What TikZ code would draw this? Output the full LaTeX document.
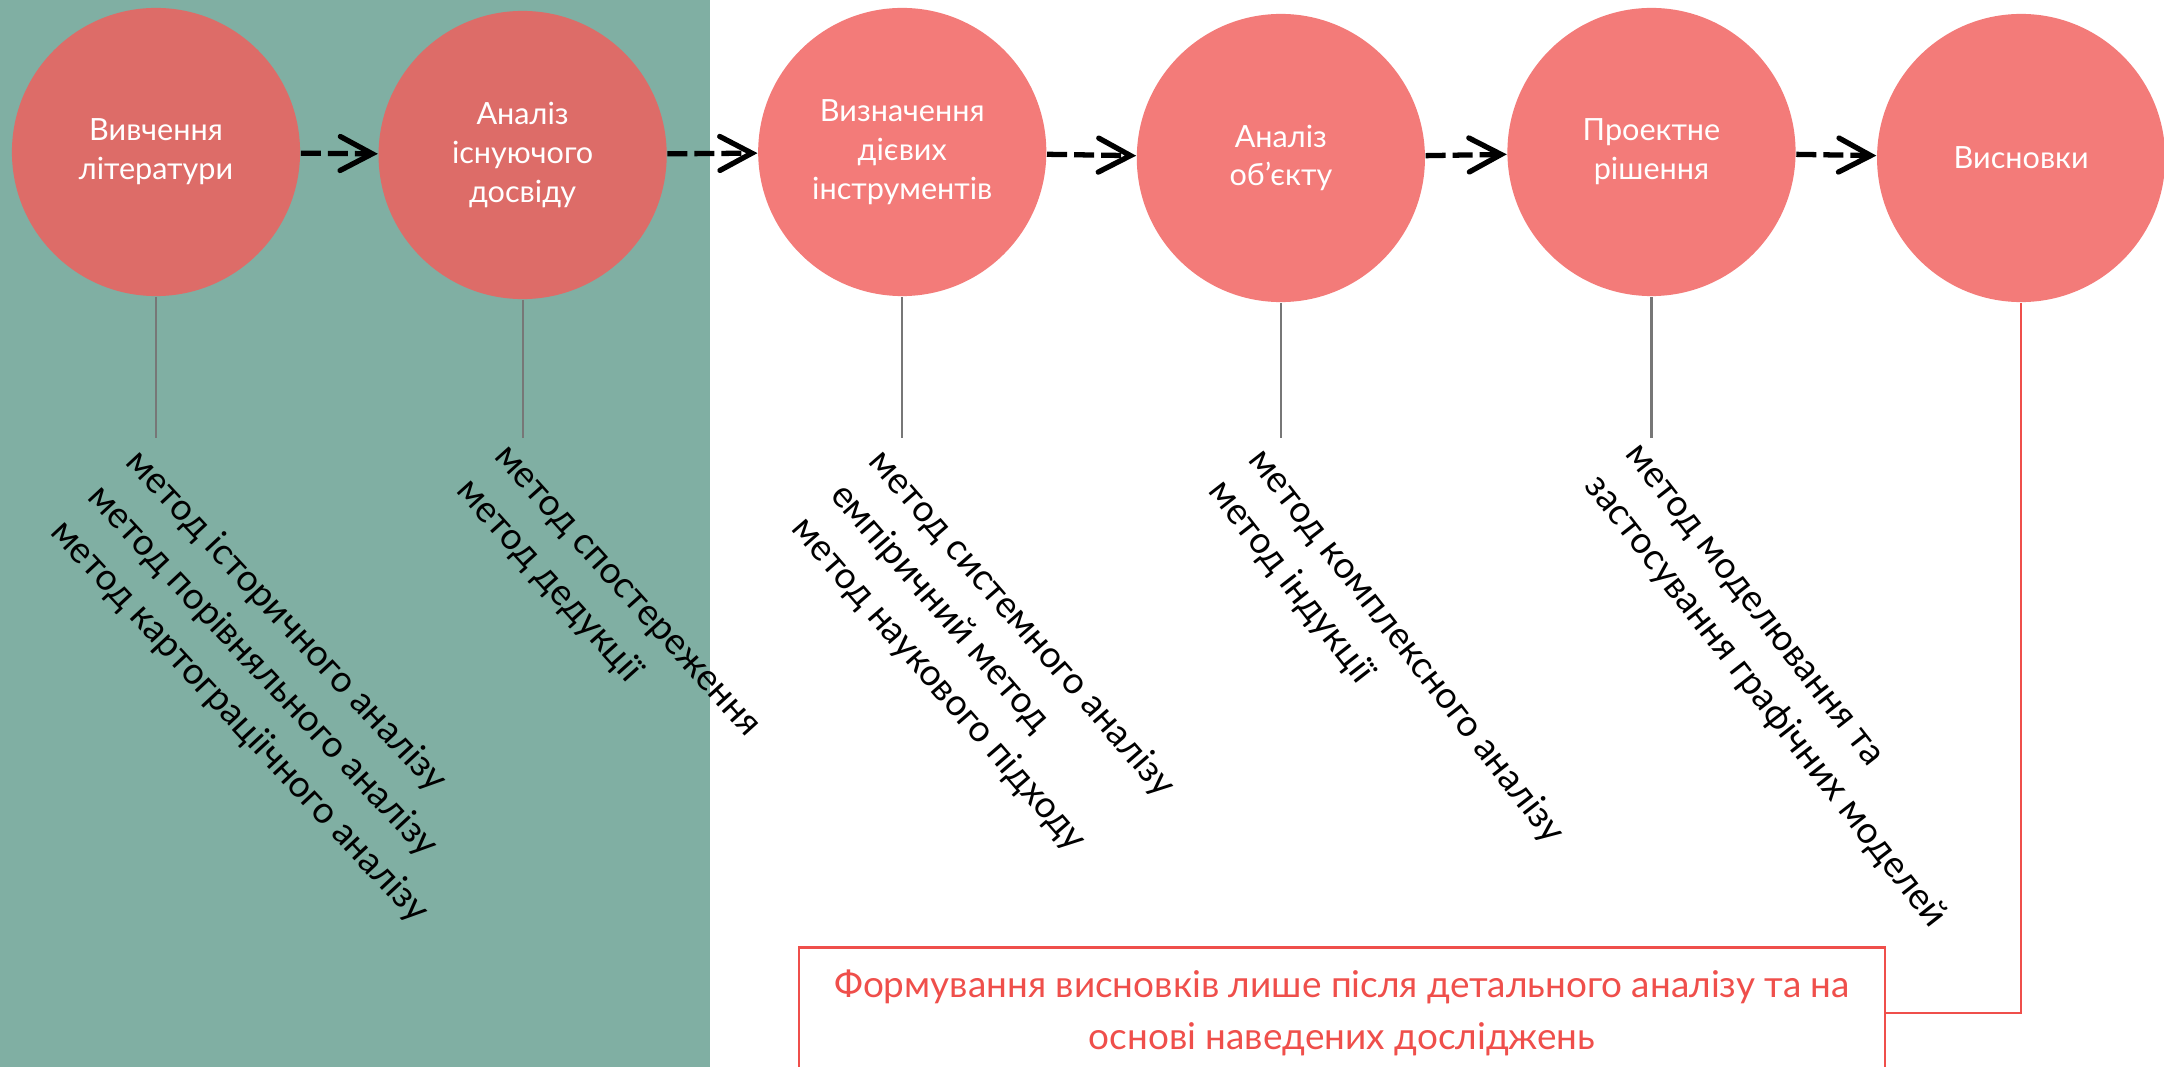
\documentclass[tikz,border=0pt]{standalone}
\usepackage{fontspec}
\setmainfont{Lato}
\usetikzlibrary{positioning,arrows.meta}
\definecolor{sage}{HTML}{80AFA3}
\definecolor{rose}{HTML}{F37B79}
\definecolor{rosedark}{HTML}{DD6C68}
\definecolor{scarlet}{HTML}{EF4F4B}
\definecolor{stemgray}{HTML}{777777}

\begin{document}
\begin{tikzpicture}[x=0.01cm,y=-0.01cm,
		stage/.style={circle,fill=rose,inner sep=0pt,minimum size=2.88cm,text=white,align=center,font=\fontsize{8.7}{11}\selectfont},
		stagedark/.style={stage,fill=rosedark},
		flow/.style={line width=1.5pt,dash pattern=on 0.2cm off 0.07cm,-{Straight Barb[length=0.32cm,width=0.34cm,line cap=round]}},
		stem/.style={stemgray,line width=0.6pt},
		redstem/.style={scarlet,line width=0.6pt},
		method/.style={anchor=north west,align=left,inner sep=0pt,font=\fontsize{10.5}{14.6}\selectfont}]
	\useasboundingbox (0,0) rectangle (2164,1067);
	\fill[sage] (0,0) rectangle (710,1067);

	% stages
	\node[stagedark]								(s1) at (156,152)	{Вивчення\\літератури};
	\node[stagedark,right=0.77cm of s1,yshift=-0.03cm]	(s2)	{Аналіз\\існуючого\\досвіду};
	\node[stage,right=0.90cm of s2,yshift=0.03cm]		(s3)	{Визначення\\дієвих\\інструментів};
	\node[stage,right=0.89cm of s3,yshift=-0.06cm]		(s4)	{Аналіз\\об’єкту};
	\node[stage,right=0.81cm of s4,yshift=0.06cm]		(s5)	{Проектне\\рішення};
	\node[stage,right=0.80cm of s5,yshift=-0.06cm]		(s6)	{Висновки};

	\draw[flow] (s1) -- (s2);
	\draw[flow] (s2) -- (s3);
	\draw[flow] (s3) -- (s4);
	\draw[flow] (s4) -- (s5);
	\draw[flow] (s5) -- (s6);

	% methods
	\draw[stem] (s1.south) -- ++(0,141) coordinate (l1);
	\draw[stem] (s2.south) -- ++(0,138) coordinate (l2);
	\draw[stem] (s3.south) -- ++(0,141) coordinate (l3);
	\draw[stem] (s4.south) -- ++(0,135) coordinate (l4);
	\draw[stem] (s5.south) -- ++(0,141) coordinate (l5);

	\node[method,rotate=-47] (m1) at ([xshift=-0.12cm,yshift=-0.06cm]l1) {метод історичного аналізу\\метод порівняльного аналізу\\метод картограціічного аналізу};
	\node[method,rotate=-48] (m2) at ([xshift=-0.15cm,yshift=-0.06cm]l2) {метод спостереження\\метод дедукції};
	\node[method,rotate=-49] (m3) at ([xshift=-0.14cm,yshift=-0.06cm]l3) {метод системного аналізу\\емпіричний метод\\метод наукового підходу};
	\node[method,rotate=-52] (m4) at ([xshift=-0.12cm,yshift=-0.05cm]l4) {метод комплексного аналізу\\метод індукції};
	\node[method,rotate=-52] (m5) at ([xshift=-0.12cm,yshift=-0.04cm]l5) {метод моделювання та\\застосування графічних моделей};

	% conclusion
	\node[draw=scarlet,line width=0.6pt,text=scarlet,minimum width=10.86cm,minimum height=1.31cm,align=center,font=\fontsize{10.5}{15}\selectfont] (box) at (1342,1013) {Формування висновків лише після детального аналізу та на\\основі наведених досліджень};
	\draw[redstem] (s6.south) |- (box.east);
\end{tikzpicture}
\end{document}
